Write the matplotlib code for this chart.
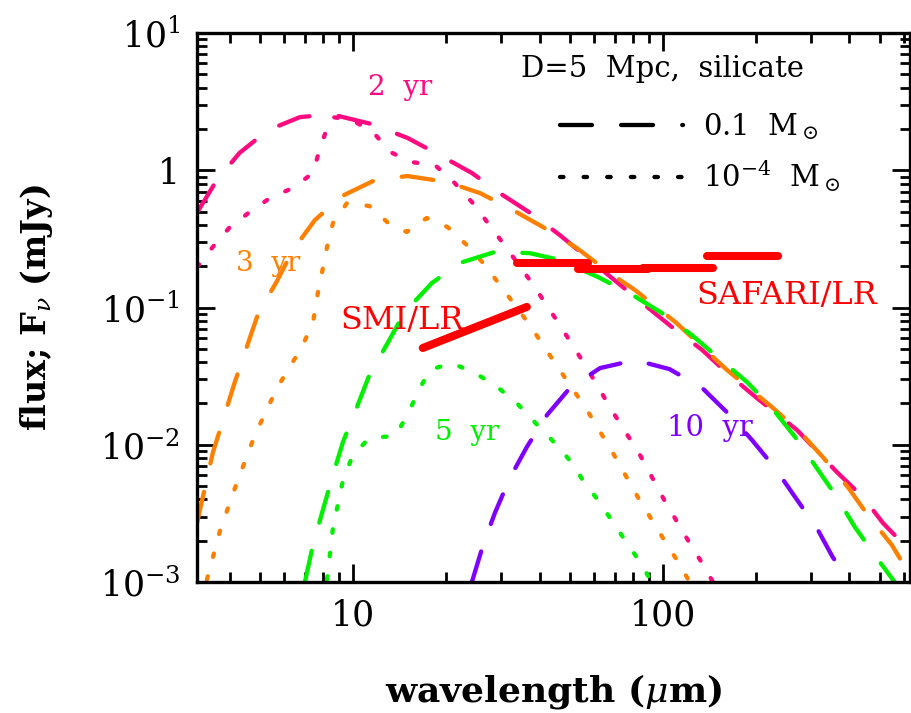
import math
import matplotlib
matplotlib.use('Agg')
import matplotlib.pyplot as plt
from matplotlib.lines import Line2D
from matplotlib.ticker import LogLocator, FuncFormatter, NullFormatter

plt.rcParams['font.family'] = 'DejaVu Serif'
plt.rcParams['mathtext.fontset'] = 'dejavuserif'
plt.rcParams['lines.scale_dashes'] = False

# colores por epoca
c_2yr = '#FF0A80'
c_3yr = '#FF8000'
c_5yr = '#00F000'
c_10yr = '#8000FF'
c_ins = '#FF0000'

# 2 yr, 0.1 Msun (dashed)
lam_2yr_a = [3.14, 3.64, 4.31, 5.32, 6.75, 8.1, 8.95, 11.5, 15.0, 18.8, 24.2, 29.8,
             37.8, 46.5, 58.2, 87.5, 107, 134, 161, 201, 271, 364, 442, 513, 636]
flux_2yr_a = [0.49, 0.85, 1.34, 1.96, 2.44, 2.53, 2.49, 2.17, 1.72, 1.31, 0.955, 0.68,
              0.48, 0.337, 0.222, 0.104, 0.072, 0.049, 0.0333, 0.0219, 0.0128, 0.00633,
              0.00416, 0.00269, 0.00163]
# 2 yr, 1e-4 Msun (dotted)
lam_2yr_b = [3.14, 3.53, 4.01, 4.65, 5.40, 6.40, 7.43, 7.83, 8.30, 8.6, 9.93, 11.6, 13.2,
             15.3, 18.4, 21.3, 24.2, 27.1, 30.3, 37.8, 46.5, 56.9, 69.0, 84.4, 101, 122,
             135, 145]
flux_2yr_b = [0.197, 0.276, 0.386, 0.497, 0.628, 0.743, 0.955, 1.45, 2.10, 2.44, 2.32,
              1.90, 1.36, 1.15, 1.09, 0.807, 0.587, 0.420, 0.300, 0.151, 0.0745, 0.0362,
              0.0173, 0.00842, 0.00396, 0.00192, 0.00133, 0.001]

# 3 yr
lam_3yr_a = [3.14, 3.53, 4.16, 4.94, 5.69, 6.40, 7.54, 9.22, 11.8, 15.0, 20.1, 25.7,
             32.8, 41.0, 52.8, 67.5, 81.3, 110, 160, 225, 277, 328, 395, 458, 548, 627]
flux_3yr_a = [0.00269, 0.00871, 0.0287, 0.0897, 0.156, 0.262, 0.434, 0.649, 0.849, 0.908,
              0.821, 0.682, 0.513, 0.386, 0.271, 0.178, 0.134, 0.078, 0.0355, 0.0188,
              0.0124, 0.00814, 0.00492, 0.00308, 0.00186, 0.00112]
lam_3yr_b = [3.38, 3.73, 4.23, 4.83, 5.69, 6.84, 7.43, 7.66, 7.94, 8.25, 8.62, 9.57, 11.3,
             13.0, 14.9, 17.3, 20.2, 23.3, 26.3, 29.8, 37.2, 45.8, 56.9, 69.0, 83.0, 101,
             112, 122]
flux_3yr_b = [0.00104, 0.00239, 0.00535, 0.0118, 0.0259, 0.0515, 0.0771, 0.119, 0.178,
              0.276, 0.413, 0.577, 0.549, 0.413, 0.355, 0.449, 0.386, 0.285, 0.211, 0.146,
              0.0745, 0.0368, 0.0179, 0.00871, 0.00416, 0.00202, 0.0014, 0.001]

# 5 yr
lam_5yr_a = [7.0, 7.43, 8.0, 8.62, 9.29, 10.3, 11.3, 13.0, 14.7, 18.0, 22.1, 28.7, 37.2,
             46.5, 61.7, 80.0, 99.3, 124, 150, 187, 225, 267, 309, 364, 416, 490, 640]
flux_5yr_a = [0.001, 0.00186, 0.00335, 0.00603, 0.0105, 0.0188, 0.0322, 0.0561, 0.0928,
              0.151, 0.211, 0.254, 0.249, 0.222, 0.167, 0.123, 0.0912, 0.063, 0.0436,
              0.0286, 0.0185, 0.0114, 0.00711, 0.00416, 0.00252, 0.0015, 0.00066]
lam_5yr_b = [8.25, 8.62, 9.29, 10.0, 11.3, 13.7, 15.0, 16.2, 17.7, 20.8, 24.8, 29.2, 33.8,
             38.6, 43.9, 49.4, 55.2, 61.7, 69.0, 76.6, 84.9, 92]
flux_5yr_b = [0.00104, 0.00247, 0.00553, 0.00842, 0.0112, 0.0116, 0.0165, 0.0242, 0.0351,
              0.0394, 0.0333, 0.0264, 0.0201, 0.0146, 0.0108, 0.008, 0.00553, 0.00396,
              0.00273, 0.00192, 0.00137, 0.001]

# 10 yr
lam_10yr_a = [24.2, 26.3, 28.7, 32.1, 36.4, 42.3, 50.1, 62.7, 81.3, 105, 134, 162, 194,
              230, 267, 314, 353, 401]
flux_10yr_a = [0.001, 0.00186, 0.00318, 0.00573, 0.00964, 0.0165, 0.0259, 0.0362, 0.0414,
               0.0356, 0.0259, 0.017, 0.0108, 0.00678, 0.00416, 0.00247, 0.00152, 0.001]

# instrumentos
smi_lam = [16.8, 36.4]
smi_flux = [0.0507, 0.101]
safari_lam = [[33.8, 57.3], [53.2, 89.5], [86.1, 145], [139, 235]]
safari_flux = [0.211, 0.191, 0.194, 0.237]

dash_long = (0, (23, 21))
dash_dot = (0, (2.5, 14.5))
lw = 3.1

fig = plt.figure(figsize=(9.12, 7.13), dpi=100)
ax = fig.add_axes([0.216, 0.1837, 0.7818, 0.770])

curvas = [
    (lam_2yr_a, flux_2yr_a, c_2yr, dash_long),
    (lam_2yr_b, flux_2yr_b, c_2yr, dash_dot),
    (lam_3yr_a, flux_3yr_a, c_3yr, dash_long),
    (lam_3yr_b, flux_3yr_b, c_3yr, dash_dot),
    (lam_5yr_a, flux_5yr_a, c_5yr, dash_long),
    (lam_5yr_b, flux_5yr_b, c_5yr, dash_dot),
    (lam_10yr_a, flux_10yr_a, c_10yr, dash_long),
]
for lam, flux, col, ls in curvas:
    ax.plot(lam, flux, color=col, linestyle=ls, lw=lw, dash_capstyle='round')

ax.plot(smi_lam, smi_flux, color=c_ins, lw=5.8, solid_capstyle='round')
for seg, f in zip(safari_lam, safari_flux):
    ax.plot(seg, [f, f], color=c_ins, lw=5.8, solid_capstyle='round')

ax.set_xscale('log')
ax.set_yscale('log')
ax.set_xlim(3.14, 627)
ax.set_ylim(1e-3, 10)

def fmt_x(v, pos):
    return '%d' % round(v)

def fmt_y(v, pos):
    if abs(v - 1) < 1e-9:
        return '1'
    return '$10^{%d}$' % round(math.log10(v))

ax.xaxis.set_major_locator(LogLocator(base=10))
ax.xaxis.set_major_formatter(FuncFormatter(fmt_x))
ax.xaxis.set_minor_formatter(NullFormatter())
ax.yaxis.set_major_locator(LogLocator(base=10))
ax.yaxis.set_major_formatter(FuncFormatter(fmt_y))
ax.yaxis.set_minor_formatter(NullFormatter())

ax.tick_params(which='both', direction='in', top=True, right=True, labelsize=25, width=2)
ax.tick_params(which='major', length=13, pad=12)
ax.tick_params(which='minor', length=7)
for s in ax.spines.values():
    s.set_linewidth(2.4)

ax.set_xlabel('wavelength ($\\mu$m)', fontsize=26, fontweight='bold', labelpad=28)
ax.set_ylabel('flux; $\\mathbf{F}_\\nu$ (mJy)', fontsize=24, fontweight='bold', labelpad=32)

# etiquetas
ax.text(14.2, 4.0, '2  yr', color=c_2yr, fontsize=20, ha='center', va='center')
ax.text(5.32, 0.211, '3  yr', color=c_3yr, fontsize=20, ha='center', va='center')
ax.text(23.3, 0.0122, '5  yr', color=c_5yr, fontsize=20, ha='center', va='center')
ax.text(142, 0.0132, '10  yr', color=c_10yr, fontsize=21, ha='center', va='center')
ax.text(14.4, 0.081, 'SMI/LR', color=c_ins, fontsize=23, ha='center', va='center')
ax.text(251, 0.123, 'SAFARI/LR', color=c_ins, fontsize=23, ha='center', va='center')
ax.text(0.653, 0.935, 'D=5  Mpc,  silicate', transform=ax.transAxes, fontsize=21,
        ha='center', va='center')

handles = [Line2D([], [], color='k', lw=lw, linestyle=dash_long, dash_capstyle='round'),
           Line2D([], [], color='k', lw=lw, linestyle=dash_dot, dash_capstyle='round')]
ax.legend(handles, ['0.1  M$_\\odot$', '10$^{-4}$  M$_\\odot$'], loc='upper right',
          bbox_to_anchor=(0.94, 0.905), frameon=False, fontsize=21, handlelength=4.2,
          handletextpad=0.7, labelspacing=0.55)

fig.savefig('out.png', dpi=100)
